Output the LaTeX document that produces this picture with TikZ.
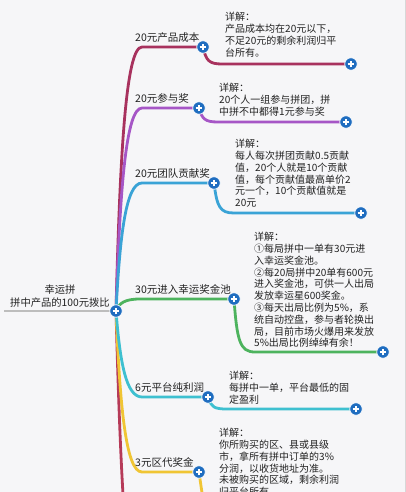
\documentclass[tikz,border=0pt]{standalone}
\usepackage{fontspec}
\setmainfont{Noto Sans CJK SC}
\pgfdeclarelayer{bg}
\pgfdeclarelayer{canvas}
\pgfsetlayers{canvas,bg,main}
\definecolor{bgc}{HTML}{F6F6F8}
\definecolor{plusblue}{HTML}{1F6DC0}
\definecolor{cCrim}{HTML}{A8325E}
\definecolor{cPurp}{HTML}{A656C6}
\definecolor{cBlue}{HTML}{3AA3D6}
\definecolor{cGreen}{HTML}{4DB35E}
\definecolor{cTeal}{HTML}{3EC0D0}
\definecolor{cYel}{HTML}{F0C534}
\definecolor{cRed}{HTML}{B63A58}
\definecolor{cGray}{HTML}{BDBDBD}
\definecolor{txt}{HTML}{222222}
\tikzset{
  plusnode/.style={circle, fill=plusblue, draw=white, line width=0.7pt, minimum size=12.5pt, inner sep=0pt,
    path picture={
      \draw[white, line width=1.7pt] ([xshift=-3.3pt]path picture bounding box.center) -- ([xshift=3.3pt]path picture bounding box.center);
      \draw[white, line width=1.7pt] ([yshift=-3.3pt]path picture bounding box.center) -- ([yshift=3.3pt]path picture bounding box.center);}},
  lbl/.style={anchor=base west, inner sep=0pt, text=txt, font=\fontsize{10.5}{12}\selectfont},
  detail/.style={anchor=north west, inner sep=0pt, align=left, text=txt, font=\fontsize{10}{11.8}\selectfont},
  branch/.style={line width=2.8pt, line cap=round},
}
\begin{document}
\begin{tikzpicture}[x=1pt,y=-1pt]
\useasboundingbox (0,0) rectangle (406,492);
\clip (0,0) rectangle (406,492);
\begin{pgfonlayer}{canvas}
\fill[bgc] (0,0) rectangle (406,492);
\draw[cGray!60, line width=1pt] (405,0) -- (405,492);
\end{pgfonlayer}

% root
\node[plusnode] (root) at (116,311) {};
\node[inner sep=0pt, align=center, text=txt, font=\fontsize{10.3}{13}\selectfont] (roottxt) at (60,296) {幸运拼\\拼中产品的100元拨比};
\coordinate (rootL) at (4,311);

% branch plus nodes
\node[plusnode] (p1) at (203,47) {};
\node[plusnode] (p2) at (199,108) {};
\node[plusnode] (p3) at (214,183) {};
\node[plusnode] (p4) at (234,299) {};
\node[plusnode] (p5) at (208,397) {};
\node[plusnode] (p6) at (199,472) {};
% end plus nodes
\node[plusnode] (e1) at (351,64) {};
\node[plusnode] (e2) at (346,122) {};
\node[plusnode] (e3) at (361,213) {};
\node[plusnode] (e4) at (383,352) {};
\node[plusnode] (e5) at (356,409) {};
\coordinate (e6) at (214,540);
\coordinate (e7) at (128,560);

% labels
\node[lbl] (l1) at (135,41.5) {20元产品成本};
\node[lbl] (l2) at (135,102.5) {20元参与奖};
\node[lbl] (l3) at (135,177.5) {20元团队贡献奖};
\node[lbl] (l4) at (135,293.5) {30元进入幸运奖金池};
\node[lbl] (l5) at (135,391.5) {6元平台纯利润};
\node[lbl] (l6) at (135,466.5) {3元区代奖金};

% details
\node[detail] (d1) at (225,12) {详解：\\产品成本均在20元以下，\\不足20元的剩余利润归平\\台所有。};
\node[detail] (d2) at (219,83) {详解：\\20个人一组参与拼团，拼\\中拼不中都得1元参与奖};
\node[detail] (d3) at (235,139) {详解：\\每人每次拼团贡献0.5贡献\\值，20个人就是10个贡献\\值，每个贡献值最高单价2\\元一个，10个贡献值就是\\20元};
\node[detail] (d4) at (254,232) {详解：\\①每局拼中一单有30元进\\入幸运奖金池。\\②每20局拼中20单有600元\\进入奖金池，可供一人出局\\发放幸运星600奖金。\\③每天出局比例为5\%，系\\统自动控盘，参与者轮换出\\局，目前市场火爆用来发放\\5\%出局比例绰绰有余！};
\node[detail] (d5) at (229,371) {详解：\\每拼中一单，平台最低的固\\定盈利};
\node[detail] (d6) at (219,428) {详解：\\你所购买的区、县或县级\\市，拿所有拼中订单的3\%\\分润，以收货地址为准。\\未被购买的区域，剩余利润\\归平台所有};

\begin{pgfonlayer}{bg}
\draw[cGray, line width=2.6pt] (rootL) -- (root.center);
% first level branches
\draw[branch, cRed] (root.center) .. controls (120,460) and (124,520) .. (e7);
\draw[branch, cCrim] (root.center) .. controls (120,152) and (126,47) .. (142,47) -- (p1.center);
\draw[branch, cPurp] (root.center) .. controls (120,188) and (126,108) .. (142,108) -- (p2.center);
\draw[branch, cBlue] (root.center) .. controls (120,234) and (126,183) .. (142,183) -- (p3.center);
\draw[branch, cGreen] (root.center) .. controls (119,303) and (125,299) .. (140,299) -- (p4.center);
\draw[branch, cYel] (root.center) .. controls (120,408) and (126,472) .. (142,472) -- (p6.center);
\draw[branch, cTeal] (root.center) .. controls (120,362) and (126,397) .. (142,397) -- (p5.center);
% second level
\draw[branch, cCrim] (p1.center) .. controls (206,60.6) and (209,64) .. (222,64) -- (e1.center);
\draw[branch, cPurp] (p2.center) .. controls (202,119) and (205,122) .. (218,122) -- (e2.center);
\draw[branch, cBlue] (p3.center) .. controls (217,207) and (220,213) .. (234,213) -- (e3.center);
\draw[branch, cGreen] (p4.center) .. controls (237,341) and (240,352) .. (255,352) -- (e4.center);
\draw[branch, cTeal] (p5.center) .. controls (211,407) and (214,409) .. (227,409) -- (e5.center);
\draw[branch, cYel] (p6.center) .. controls (203,500) and (207,530) .. (e6);
\end{pgfonlayer}
\end{tikzpicture}
\end{document}
